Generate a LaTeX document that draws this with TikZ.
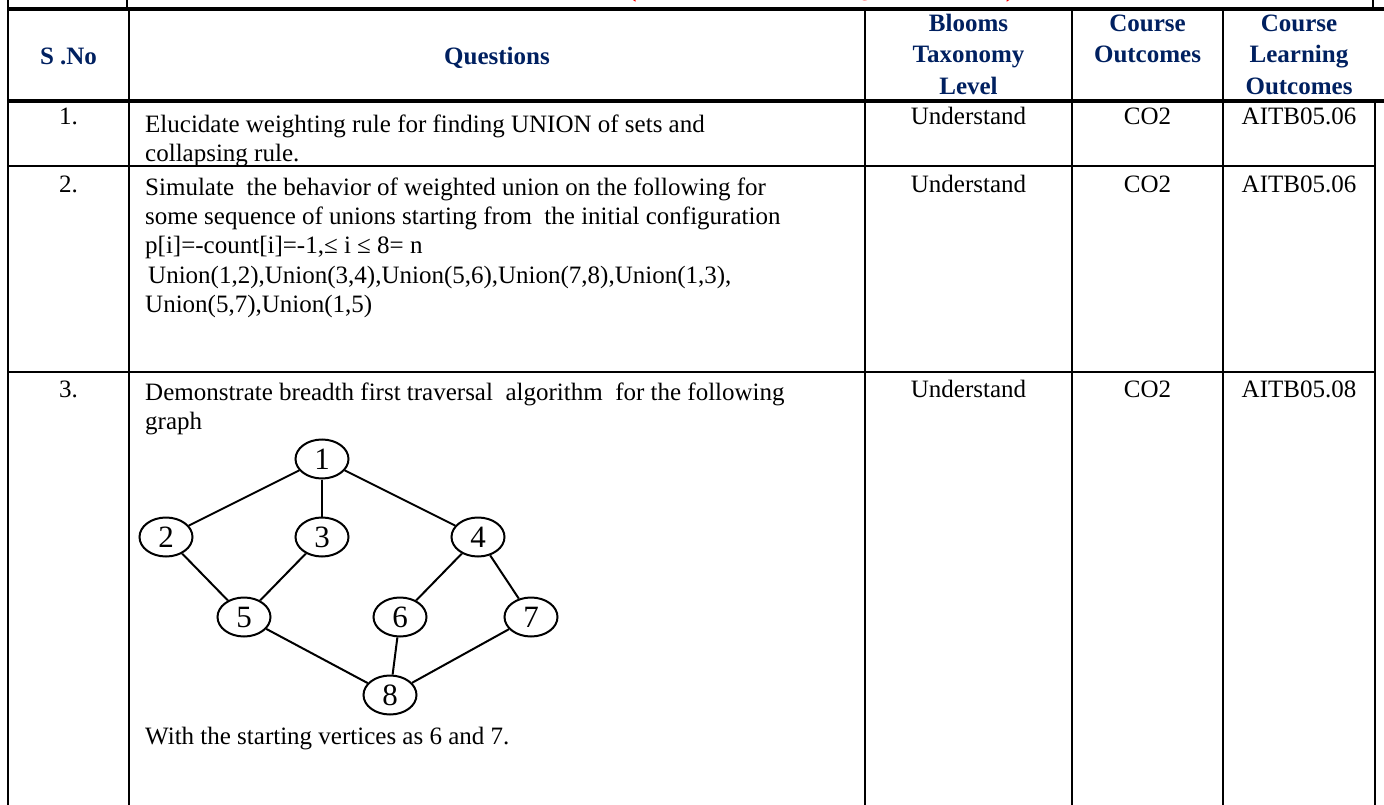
\documentclass[tikz,border=0pt]{standalone}
\usepackage{fontspec}
\setmainfont{Liberation Serif}
\usetikzlibrary{positioning, shapes.geometric}
\definecolor{headBlue}{RGB}{0,32,96}
\tikzstyle{headText} = [font=\fontsize{25}{30}\selectfont\bfseries, text=headBlue, inner sep=0, anchor=base]
\tikzstyle{bodyText} = [font=\fontsize{25}{29}\selectfont, inner sep=0, anchor=base west]
\tikzstyle{cellText} = [font=\fontsize{25}{29}\selectfont, inner sep=0, anchor=base]
\tikzstyle{vertex} = [draw, ellipse, line width=2pt, minimum width=53pt, minimum height=39pt, inner sep=0, font=\fontsize{31}{31}\selectfont]
\tikzstyle{rule} = [line width=2pt]
\tikzstyle{thickRule} = [line width=3.5pt]

\begin{document}
\begin{tikzpicture}[x=1pt, y=-1pt]
	\useasboundingbox (0,0) rectangle (1384,805);
	\clip (0,0) rectangle (1384,805);

	% cut-off title of the part
	\node[font=\fontsize{27}{27}\selectfont\bfseries, text=red, inner sep=0, anchor=base west] (title) at (627.5,-3) {(LONG ANSWER QUESTIONS)};

	% table rules
	\draw[rule] (8,0) -- (8,805);
	\draw[rule] (127,0) -- (127,9);
	\draw[rule] (1373,0) -- (1373,9);
	\foreach \x in {129, 865, 1072, 1223}
		\draw[rule] (\x,9) -- (\x,805);
	\draw[rule] (1375,101) -- (1375,805);
	\draw[thickRule] (8,9) -- (1384,9);
	\draw[thickRule] (8,101) -- (1384,101);
	\draw[rule] (8,166) -- (1375,166);
	\draw[rule] (8,372) -- (1375,372);

	% header row
	\node[headText] (hNo) at (68.5,65) {S .No};
	\node[headText] (hQues) at (497,65) {Questions};
	\node[headText] (hBloomsA) at (968.5,32) {Blooms};
	\node[headText] (hBloomsB) at (968.5,63) {Taxonomy};
	\node[headText] (hBloomsC) at (968.5,95) {Level};
	\node[headText] (hCoA) at (1147.5,32) {Course};
	\node[headText] (hCoB) at (1147.5,63) {Outcomes};
	\node[headText] (hCloA) at (1299,32) {Course};
	\node[headText] (hCloB) at (1299,63) {Learning};
	\node[headText] (hCloC) at (1299,95) {Outcomes};

	% question 1
	\node[cellText] (no1) at (68.5,125) {1.};
	\node[bodyText] (q1a) at (145,133) {Elucidate weighting rule for finding UNION of sets and};
	\node[bodyText] (q1b) at (145,162) {collapsing rule.};
	\node[cellText] (bt1) at (968.5,125) {Understand};
	\node[cellText] (co1) at (1147.5,125) {CO2};
	\node[cellText] (clo1) at (1299,125) {AITB05.06};

	% question 2
	\node[cellText] (no2) at (68.5,193) {2.};
	\node[bodyText] (q2a) at (145,196) {Simulate\ \ the behavior of weighted union on the following for};
	\node[bodyText] (q2b) at (145,225) {some sequence of unions starting from\ \ the initial configuration};
	\node[bodyText] (q2c) at (145,254) {p[i]=-count[i]=-1,≤ i ≤ 8= n};
	\node[bodyText] (q2d) at (148,283) {Union(1,2),Union(3,4),Union(5,6),Union(7,8),Union(1,3),};
	\node[bodyText] (q2e) at (145,312) {Union(5,7),Union(1,5)};
	\node[cellText] (bt2) at (968.5,193) {Understand};
	\node[cellText] (co2) at (1147.5,193) {CO2};
	\node[cellText] (clo2) at (1299,193) {AITB05.06};

	% question 3
	\node[cellText] (no3) at (68.5,397) {3.};
	\node[bodyText] (q3a) at (145,400) {Demonstrate breadth first traversal\ \ algorithm\ \ for the following};
	\node[bodyText] (q3b) at (145,429) {graph};
	\node[bodyText] (q3c) at (145,744) {With the starting vertices as 6 and 7.};
	\node[cellText] (bt3) at (968.5,397) {Understand};
	\node[cellText] (co3) at (1147.5,397) {CO2};
	\node[cellText] (clo3) at (1299,397) {AITB05.08};

	% graph of question 3
	\node[vertex] (v1) at (322,459) {1};
	\node[vertex] (v2) at (166,537) {2};
	\node[vertex] (v3) at (322,537) {3};
	\node[vertex] (v4) at (478,537) {4};
	\node[vertex] (v5) at (244,617) {5};
	\node[vertex] (v6) at (400,617) {6};
	\node[vertex] (v7) at (531,617) {7};
	\node[vertex] (v8) at (390,695) {8};

	\draw[rule] (v1) -- (v2);
	\draw[rule] (v1) -- (v3);
	\draw[rule] (v1) -- (v4);
	\draw[rule] (v2) -- (v5);
	\draw[rule] (v3) -- (v5);
	\draw[rule] (v4) -- (v6);
	\draw[rule] (v4) -- (v7);
	\draw[rule] (v5) -- (v8);
	\draw[rule] (v6) -- (v8);
	\draw[rule] (v7) -- (v8);
\end{tikzpicture}
\end{document}
